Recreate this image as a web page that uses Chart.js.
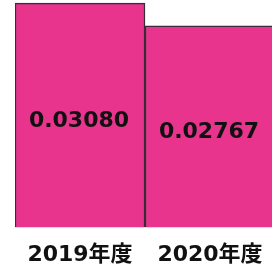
<!DOCTYPE html>
<html>
<head>
<meta charset="utf-8">
<script src="https://cdn.jsdelivr.net/npm/chart.js@4"></script>
<style>
  html, body { margin: 0; padding: 0; background: #fff; overflow: hidden; }
  #wrap { width: 275px; height: 268px; }
</style>
</head>
<body>
<div id="wrap"><canvas id="chart"></canvas></div>
<script>
var years = ['2019年度', '2020年度'];
var rates = [0.03080, 0.02767];
var rateLabels = ['0.03080', '0.02767'];

// draw the value text in the middle of each bar
var valueText = {
    id: 'valueText',
    afterDatasetsDraw: function (chart) {
        var ctx = chart.ctx;
        ctx.save();
        ctx.font = 'bold 22px "DejaVu Sans", sans-serif';
        ctx.fillStyle = '#111';
        ctx.textAlign = 'center';
        ctx.textBaseline = 'middle';
        chart.getDatasetMeta(0).data.forEach(function (bar, i) {
            var mid = (bar.y + bar.base) / 2;
            ctx.fillText(rateLabels[i], bar.x - 1, mid + 6);
        });
        ctx.restore();
    }
};

var ctx = document.getElementById('chart').getContext('2d');
var myChart = new Chart(ctx, {
    type: 'bar',
    data: {
        labels: years,
        datasets: [{
            data: rates,
            backgroundColor: '#E9348D',
            borderColor: '#3b2a38',
            borderWidth: 1.5,
            barPercentage: 1,
            categoryPercentage: 1
        }]
    },
    options: {
        responsive: true,
        maintainAspectRatio: false,
        animation: false,
        layout: { padding: { left: 15, right: 0, top: 0, bottom: -6 } },
        plugins: {
            legend: { display: false },
            tooltip: { enabled: false }
        },
        scales: {
            y: {
                display: false,
                min: 0,
                max: 0.03122
            },
            x: {
                grid: { display: false },
                border: { display: false },
                ticks: {
                    color: '#111',
                    padding: 6,
                    font: { size: 22, weight: 'bold', family: '"DejaVu Sans", "Noto Sans CJK JP", sans-serif' }
                }
            }
        }
    },
    plugins: [valueText]
});
</script>
</body>
</html>
